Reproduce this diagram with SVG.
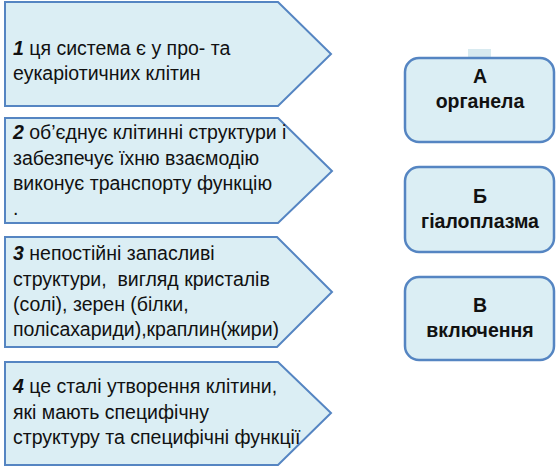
<svg xmlns="http://www.w3.org/2000/svg" width="558" height="467" viewBox="0 0 558 467">
<style>
.p{fill:#dbeef4;stroke:#5585c2;stroke-width:2}
.r{fill:#dbeef4;stroke:#5585c2;stroke-width:2.5}
.t{font-family:"Liberation Sans",Arial,sans-serif;font-size:19.5px;fill:#111;white-space:pre}
.n{font-weight:bold;font-style:italic}
.c{font-family:"Liberation Sans",Arial,sans-serif;font-size:19.5px;font-weight:bold;fill:#111;text-anchor:middle}
</style>
<rect width="558" height="467" fill="#fff"/>
<g id="s1">
<polygon class="p" points="5,2 278,2 331,54 278,106 5,106"/>
<text class="t" x="13" y="55"><tspan class="n">1</tspan> ця система є у про- та</text>
<text class="t" x="13" y="80">еукаріотичних клітин</text>
</g>
<g id="s2">
<polygon class="p" points="5,118 278,118 332,171 278,223 5,223"/>
<text class="t" x="13" y="139"><tspan class="n">2</tspan> об’єднує клітинні структури і</text>
<text class="t" x="13" y="165">забезпечує їхню взаємодію</text>
<text class="t" x="13" y="190">виконує транспорту функцію</text>
<text class="t" x="13" y="215">.</text>
</g>
<g id="s3">
<polygon class="p" points="5,237 277,237 332,292 277,347 5,347"/>
<text class="t" x="13" y="260"><tspan class="n">3</tspan> непостійні запасливі</text>
<text class="t" x="13" y="286" xml:space="preserve">структури,  вигляд кристалів</text>
<text class="t" x="13" y="311">(солі), зерен (білки,</text>
<text class="t" x="13" y="336">полісахариди),краплин(жири)</text>
</g>
<g id="s4">
<polygon class="p" points="5,362 278,362 331,413 278,465 5,465"/>
<text class="t" x="13" y="393"><tspan class="n">4</tspan> це сталі утворення клітини,</text>
<text class="t" x="13" y="419">які мають специфічну</text>
<text class="t" x="13" y="444">структуру та специфічні функції</text>
</g>
<g id="mark">
<rect x="468" y="49" width="23" height="8" fill="#d8eaf0"/>
</g>
<g id="a">
<rect class="r" x="405" y="58" width="149" height="84" rx="14"/>
<text class="c" x="480" y="83">А</text>
<text class="c" x="480" y="108">органела</text>
</g>
<g id="b">
<rect class="r" x="405" y="167" width="149" height="85" rx="14"/>
<text class="c" x="480" y="203">Б</text>
<text class="c" x="480" y="228">гіалоплазма</text>
</g>
<g id="v">
<rect class="r" x="405" y="277" width="149" height="83" rx="14"/>
<text class="c" x="480" y="312">В</text>
<text class="c" x="480" y="337">включення</text>
</g>
<g id="connectors"></g>
</svg>
